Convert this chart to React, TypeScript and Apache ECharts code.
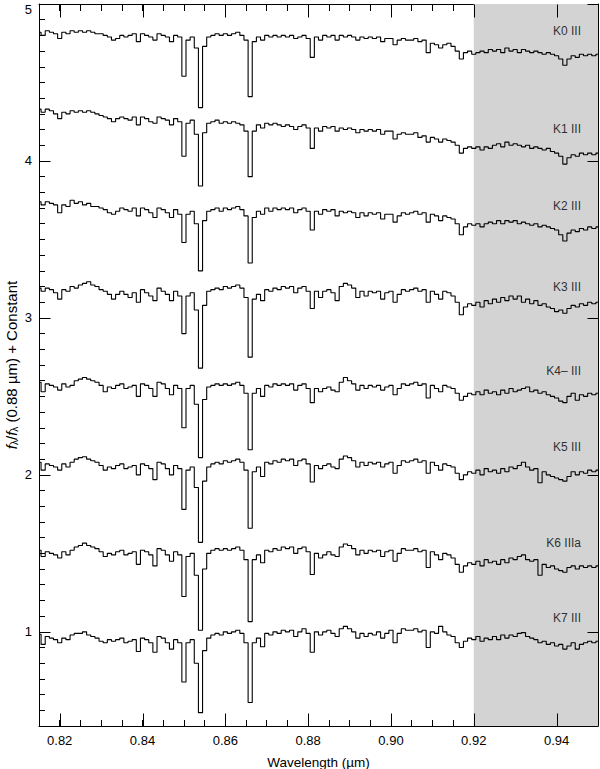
import React, { useEffect, useRef } from "react";
import * as echarts from "echarts";

// ---- axis ranges / ticks ----
const X_MIN = 0.815;
const X_MAX = 0.95;
const Y_MIN = 0.4;
const Y_MAX = 5;
const X_MAJOR = [0.82, 0.84, 0.86, 0.88, 0.9, 0.92, 0.94];
const Y_MAJOR = [1, 2, 3, 4, 5];
const SHADE_FROM = 0.92;
const SHADE_TO = 0.95;

// wavelength grid: 0.815 .. 0.950 µm, 0.001 µm sampling (136 samples)
const WL_START = 0.815;
const WL_STEP = 0.001;

// ---- spectra (f / f(0.88 µm) + constant) ----
const K0_III = [
  4.82, 4.8, 4.83, 4.82, 4.81, 4.78, 4.82, 4.81, 4.83, 4.82,
  4.83, 4.82, 4.83, 4.82, 4.81, 4.81, 4.8, 4.79, 4.77, 4.78,
  4.8, 4.79, 4.8, 4.81, 4.76, 4.81, 4.8, 4.79, 4.77, 4.81,
  4.8, 4.79, 4.76, 4.8, 4.79, 4.54, 4.77, 4.79, 4.72, 4.34,
  4.73, 4.79, 4.8, 4.81, 4.8, 4.81, 4.8, 4.81, 4.82, 4.8,
  4.77, 4.41, 4.76, 4.79, 4.77, 4.8, 4.79, 4.8, 4.79, 4.8,
  4.79, 4.8, 4.78, 4.79, 4.8, 4.78, 4.66, 4.79, 4.77, 4.8,
  4.79, 4.8, 4.77, 4.8, 4.79, 4.8, 4.79, 4.77, 4.79, 4.78,
  4.79, 4.78, 4.79, 4.76, 4.78, 4.78, 4.74, 4.77, 4.78, 4.77,
  4.77, 4.78, 4.76, 4.77, 4.69, 4.75, 4.74, 4.72, 4.74, 4.75,
  4.73, 4.7, 4.65, 4.69, 4.7, 4.68, 4.69, 4.7, 4.69, 4.71,
  4.7, 4.71, 4.69, 4.72, 4.7, 4.71, 4.69, 4.71, 4.7, 4.69,
  4.7, 4.69, 4.68, 4.69, 4.68, 4.67, 4.65, 4.61, 4.65, 4.67,
  4.66, 4.68, 4.67, 4.68, 4.67, 4.68,
];
const K1_III = [
  4.33, 4.31, 4.33, 4.32, 4.3, 4.27, 4.31, 4.3, 4.32, 4.31,
  4.32, 4.31, 4.32, 4.31, 4.3, 4.29, 4.28, 4.27, 4.25, 4.27,
  4.28, 4.27, 4.26, 4.28, 4.23, 4.28, 4.27, 4.25, 4.24, 4.28,
  4.27, 4.26, 4.23, 4.27, 4.25, 4.03, 4.24, 4.26, 4.17, 3.84,
  4.18, 4.24, 4.25, 4.26, 4.24, 4.25, 4.24, 4.25, 4.24, 4.23,
  4.19, 3.9, 4.19, 4.23, 4.21, 4.24, 4.23, 4.24, 4.23, 4.22,
  4.23, 4.22, 4.2, 4.22, 4.23, 4.21, 4.08, 4.21, 4.19, 4.22,
  4.21, 4.22, 4.19, 4.21, 4.2, 4.21, 4.2, 4.18, 4.2, 4.19,
  4.2, 4.19, 4.2, 4.17, 4.19, 4.19, 4.14, 4.17, 4.18, 4.17,
  4.17, 4.18, 4.15, 4.16, 4.12, 4.15, 4.14, 4.12, 4.14, 4.13,
  4.12, 4.1, 4.05, 4.08, 4.09, 4.08, 4.09, 4.07, 4.09, 4.08,
  4.1, 4.11, 4.09, 4.12, 4.1, 4.11, 4.1, 4.09, 4.1, 4.08,
  4.09, 4.08, 4.07, 4.08, 4.06, 4.05, 4.03, 3.98, 4.02, 4.04,
  4.03, 4.05, 4.04, 4.05, 4.04, 4.05,
];
const K2_III = [
  3.74, 3.72, 3.74, 3.73, 3.72, 3.67, 3.72, 3.71, 3.75, 3.73,
  3.74, 3.72, 3.73, 3.71, 3.71, 3.7, 3.69, 3.67, 3.66, 3.68,
  3.7, 3.69, 3.68, 3.7, 3.65, 3.7, 3.69, 3.67, 3.64, 3.7,
  3.69, 3.67, 3.64, 3.69, 3.66, 3.48, 3.66, 3.68, 3.6, 3.3,
  3.62, 3.68, 3.69, 3.7, 3.68, 3.7, 3.69, 3.7, 3.71, 3.69,
  3.65, 3.35, 3.64, 3.68, 3.66, 3.7, 3.68, 3.7, 3.69, 3.7,
  3.69, 3.7, 3.67, 3.69, 3.7, 3.68, 3.56, 3.68, 3.66, 3.69,
  3.68, 3.69, 3.65, 3.68, 3.67, 3.68, 3.67, 3.64, 3.67, 3.65,
  3.67, 3.66, 3.67, 3.63, 3.66, 3.66, 3.61, 3.65, 3.67, 3.66,
  3.67, 3.68, 3.66, 3.67, 3.61, 3.66, 3.65, 3.62, 3.65, 3.64,
  3.63, 3.6, 3.53, 3.58, 3.6, 3.59, 3.6, 3.58, 3.6, 3.61,
  3.6, 3.62, 3.6, 3.62, 3.61, 3.62, 3.6, 3.61, 3.6, 3.59,
  3.6, 3.58, 3.59, 3.58, 3.57, 3.56, 3.53, 3.49, 3.54, 3.56,
  3.55, 3.57, 3.56, 3.58, 3.57, 3.58,
];
const K3_III = [
  3.19, 3.17, 3.19, 3.18, 3.16, 3.12, 3.18, 3.17, 3.2, 3.19,
  3.21, 3.22, 3.23, 3.21, 3.2, 3.18, 3.17, 3.15, 3.12, 3.15,
  3.17, 3.15, 3.13, 3.16, 3.1, 3.18, 3.16, 3.14, 3.11, 3.19,
  3.17, 3.15, 3.11, 3.17, 3.14, 2.9, 3.14, 3.16, 3.05, 2.68,
  3.08, 3.17, 3.18, 3.19, 3.18, 3.2, 3.19, 3.2, 3.21, 3.19,
  3.13, 2.75, 3.12, 3.15, 3.11, 3.18, 3.17, 3.19, 3.18, 3.2,
  3.19, 3.2, 3.16, 3.19, 3.2, 3.17, 3.06, 3.17, 3.13, 3.17,
  3.18, 3.16, 3.11, 3.2, 3.22, 3.21, 3.19, 3.13, 3.17, 3.14,
  3.17, 3.16, 3.17, 3.12, 3.16, 3.17, 3.1, 3.15, 3.18, 3.17,
  3.18, 3.19, 3.17, 3.18, 3.1, 3.17, 3.15, 3.12, 3.17, 3.16,
  3.14, 3.1, 3.02, 3.07, 3.09, 3.08, 3.1, 3.07, 3.11, 3.09,
  3.12, 3.1, 3.13, 3.11, 3.14, 3.12, 3.14, 3.1, 3.12, 3.09,
  3.11, 3.08, 3.09, 3.07, 3.06, 3.04, 3.05, 3.03, 3.06, 3.08,
  3.07, 3.09, 3.08, 3.1, 3.09, 3.1,
];
const K4_III = [
  2.59, 2.53, 2.58, 2.57, 2.56, 2.54, 2.58, 2.56, 2.57, 2.6,
  2.61, 2.62, 2.61, 2.6, 2.59, 2.57, 2.53, 2.56, 2.55, 2.57,
  2.58, 2.55, 2.56, 2.57, 2.5, 2.58, 2.57, 2.55, 2.5, 2.59,
  2.58, 2.55, 2.51, 2.57, 2.55, 2.3, 2.55, 2.57, 2.45, 2.11,
  2.48, 2.56, 2.57, 2.58, 2.57, 2.58, 2.57, 2.58, 2.59, 2.57,
  2.52, 2.16, 2.52, 2.55, 2.5, 2.57, 2.56, 2.58, 2.57, 2.58,
  2.57, 2.58, 2.54, 2.57, 2.58, 2.55, 2.46, 2.55, 2.53, 2.55,
  2.56, 2.54, 2.53, 2.59, 2.62, 2.6, 2.58, 2.54, 2.57, 2.55,
  2.57, 2.56, 2.57, 2.54, 2.56, 2.57, 2.51, 2.55, 2.58, 2.57,
  2.58, 2.59, 2.57, 2.58, 2.49, 2.57, 2.55, 2.53, 2.57, 2.56,
  2.55, 2.52, 2.475, 2.5, 2.52, 2.51, 2.53, 2.51, 2.54, 2.52,
  2.53, 2.51, 2.54, 2.52, 2.55, 2.53, 2.54, 2.55, 2.56, 2.53,
  2.54, 2.52, 2.53, 2.51, 2.5, 2.49, 2.47, 2.46, 2.5, 2.52,
  2.475, 2.51, 2.5, 2.52, 2.51, 2.52,
];
const K5_III = [
  2.08, 2.03, 2.07, 2.06, 2.05, 2.03, 2.07, 2.05, 2.08, 2.1,
  2.11, 2.115, 2.1, 2.09, 2.08, 2.06, 2.03, 2.05, 2.04, 2.06,
  2.07, 2.04, 2.05, 2.06, 2.0, 2.07, 2.06, 2.04, 1.97, 2.08,
  2.07, 2.04, 2.0, 2.06, 2.04, 1.78, 2.03, 2.05, 1.92, 1.57,
  1.96, 2.05, 2.07, 2.08, 2.07, 2.09, 2.08, 2.09, 2.1, 2.08,
  2.03, 1.66, 2.02, 2.05, 1.99, 2.08, 2.07, 2.09, 2.08, 2.1,
  2.09, 2.1, 2.06, 2.09, 2.1, 2.07, 1.955, 2.06, 2.04, 2.06,
  2.07, 2.05, 2.04, 2.1, 2.12, 2.11, 2.09, 2.05, 2.08, 2.06,
  2.08, 2.07, 2.08, 2.05, 2.07, 2.08, 2.01, 2.06, 2.09, 2.08,
  2.09, 2.1, 2.08, 2.09, 2.01, 2.08, 2.06, 2.03, 2.07, 2.06,
  2.05, 2.01, 1.97, 2.0, 2.02, 2.01, 2.03, 2.0, 2.04, 2.02,
  2.03, 2.01, 2.04, 2.02, 2.05, 2.04, 2.06, 2.08, 2.05, 2.03,
  2.04, 1.95, 2.02, 2.0, 1.99, 1.98, 1.97, 1.96, 1.99, 2.02,
  2.0, 2.02, 2.01, 2.03, 2.02, 2.03,
];
const K6_IIIa = [
  1.52, 1.48, 1.51, 1.5, 1.49, 1.47, 1.51, 1.49, 1.52, 1.54,
  1.55, 1.565, 1.55, 1.54, 1.53, 1.51, 1.48, 1.5, 1.49, 1.51,
  1.52, 1.49, 1.5, 1.51, 1.43, 1.52, 1.51, 1.49, 1.42, 1.53,
  1.52, 1.49, 1.45, 1.51, 1.49, 1.225, 1.48, 1.5, 1.36, 1.01,
  1.4, 1.5, 1.52, 1.53, 1.52, 1.53, 1.52, 1.53, 1.54, 1.52,
  1.46, 1.065, 1.46, 1.49, 1.44, 1.52, 1.51, 1.53, 1.52, 1.54,
  1.53, 1.54, 1.5, 1.53, 1.54, 1.51, 1.365, 1.5, 1.47, 1.49,
  1.51, 1.49, 1.48, 1.54, 1.56, 1.55, 1.53, 1.49, 1.52, 1.5,
  1.52, 1.51, 1.52, 1.48, 1.51, 1.52, 1.45, 1.5, 1.53, 1.52,
  1.52, 1.53, 1.51, 1.52, 1.41, 1.51, 1.49, 1.46, 1.5, 1.49,
  1.47, 1.43, 1.38, 1.42, 1.44, 1.43, 1.45, 1.42, 1.46, 1.44,
  1.45, 1.43, 1.46, 1.44, 1.47, 1.46, 1.48, 1.49, 1.46, 1.45,
  1.46, 1.36, 1.43, 1.41, 1.42, 1.4, 1.39, 1.38, 1.41, 1.42,
  1.4, 1.42, 1.41, 1.42, 1.41, 1.42,
];
const K7_III = [
  0.985, 0.92, 0.97, 0.96, 0.95, 0.93, 0.96, 0.95, 0.98, 0.99,
  0.99, 1.0, 0.98, 0.97, 0.96, 0.94, 0.93, 0.95, 0.94, 0.95,
  0.96, 0.93, 0.94, 0.95, 0.875, 0.96, 0.95, 0.93, 0.87, 0.97,
  0.96, 0.93, 0.89, 0.95, 0.93, 0.68, 0.93, 0.95, 0.8, 0.485,
  0.88, 0.96, 0.98, 0.99, 0.98, 1.0, 0.99, 1.0, 1.01, 0.99,
  0.93, 0.55, 0.93, 0.96, 0.905, 0.99, 0.98, 1.0, 0.99, 1.01,
  1.0, 1.01, 0.97, 1.0, 1.02, 0.99, 0.87, 1.0, 0.98, 1.0,
  1.01, 0.99, 0.97, 1.02, 1.035, 1.02, 1.0, 0.96, 0.99, 0.97,
  0.99, 0.98, 1.0, 0.96, 0.99, 1.01, 0.93, 0.99, 1.02, 1.01,
  1.01, 1.02, 1.0, 1.01, 0.9, 1.0, 0.99, 1.035, 1.0, 0.98,
  0.97, 0.93, 0.9, 0.94, 0.96, 0.95, 0.97, 0.94, 0.96, 0.95,
  0.97, 0.95, 0.98, 0.96, 0.98, 0.97, 0.99, 0.995, 0.97, 0.96,
  0.95, 0.93, 0.94, 0.92, 0.93, 0.91, 0.92, 0.89, 0.91, 0.93,
  0.89, 0.92, 0.93, 0.94, 0.93, 0.94,
];

const SPECTRA = [K0_III, K1_III, K2_III, K3_III, K4_III, K5_III, K6_IIIa, K7_III];
const STAR_NAMES = ["K0 III", "K1 III", "K2 III", "K3 III", "K4\u2013 III", "K5 III", "K6 IIIa", "K7 III"];
const LABEL_X = 0.9459;
const LABEL_Y = [4.828, 4.205, 3.716, 3.195, 2.66, 2.18, 1.567, 1.09];

const Y_TITLE = "{it|f}{sub|\u03bb}{n|/}{it|f}{sub|\u03bb}{n| (0.88 \u00b5m) + Constant}";
const X_TITLE = "Wavelength (\u00b5m)";

const FONT = "'Liberation Sans', Arial, Helvetica, sans-serif";

export default function App() {
  const ref = useRef<HTMLDivElement>(null);

  useEffect(() => {
    if (!ref.current) return;
    const chart = echarts.init(ref.current, undefined, { renderer: "svg" });

    const lineSeries = SPECTRA.map((flux, k) => ({
      type: "line",
      name: STAR_NAMES[k],
      step: "middle",
      showSymbol: false,
      symbol: "none",
      silent: true,
      z: 3,
      lineStyle: { color: "#000", width: 1.1 },
      data: flux.map((y, i) => [+(WL_START + i * WL_STEP).toFixed(4), y]),
    }));

    // major ticks (drawn through the axes' scales)
    const majorTicks: number[][] = [];
    X_MAJOR.forEach((v) => {
      majorTicks.push([v, Y_MIN, 0]);
      majorTicks.push([v, Y_MAX, 1]);
    });
    Y_MAJOR.forEach((v) => {
      majorTicks.push([X_MIN, v, 2]);
      majorTicks.push([X_MAX, v, 3]);
    });

    const xLabelFmt = (v: number) => {
      const r = Math.round(v * 1000);
      return r % 20 === 0 ? (r / 1000).toFixed(2) : "";
    };
    const yLabelFmt = (v: number) => {
      if (Math.abs(v - Math.round(v)) > 1e-6) return "";
      const n = Math.round(v);
      return n === Y_MAX ? "{top|" + n + "}" : String(n);
    };

    const axisLine = { show: true, lineStyle: { color: "#000", width: 1 } };

    chart.setOption({
      animation: false,
      grid: { left: 39, right: 2, top: 4, bottom: 43, containLabel: false, outerBoundsMode: "none" },
      graphic: [
        {
          type: "text",
          x: 11,
          y: 365,
          rotation: Math.PI / 2,
          silent: true,
          style: {
            text: Y_TITLE,
            align: "center",
            verticalAlign: "middle",
            fill: "#000",
            fontSize: 15,
            fontFamily: FONT,
            rich: {
              it: { fontStyle: "italic", fontSize: 15, fontFamily: FONT, fill: "#000", lineHeight: 16 },
              n: { fontSize: 15, fontFamily: FONT, fill: "#000", lineHeight: 16 },
              sub: { fontSize: 10, fontFamily: FONT, fill: "#000", lineHeight: 10, verticalAlign: "bottom" },
            },
          },
        },
      ],
      xAxis: [
        {
          type: "value",
          position: "bottom",
          min: X_MIN,
          max: X_MAX,
          interval: 0.005,
          axisLine,
          axisTick: { show: true, inside: true, length: 6, lineStyle: { color: "#000" } },
          axisLabel: { formatter: xLabelFmt, color: "#000", fontSize: 13, fontFamily: FONT, margin: 8 },
          splitLine: { show: false },
          name: X_TITLE,
          nameLocation: "middle",
          nameGap: 29,
          nameTextStyle: { color: "#000", fontSize: 13.5, fontFamily: FONT },
        },
        {
          type: "value",
          position: "top",
          min: X_MIN,
          max: X_MAX,
          interval: 0.005,
          axisLine,
          axisTick: { show: true, inside: true, length: 7, lineStyle: { color: "#000" } },
          axisLabel: { show: false },
          splitLine: { show: false },
        },
      ],
      yAxis: [
        {
          type: "value",
          position: "left",
          min: Y_MIN,
          max: Y_MAX,
          interval: 0.1,
          axisLine,
          axisTick: { show: true, inside: true, length: 6, lineStyle: { color: "#000" } },
          axisLabel: {
            formatter: yLabelFmt,
            color: "#000",
            fontSize: 13,
            fontFamily: FONT,
            margin: 7,
            rich: {
              top: { fontSize: 13, fontFamily: FONT, color: "#000", padding: [11, 0, 0, 0] },
            },
          },
          splitLine: { show: false },
        },
        {
          type: "value",
          position: "right",
          min: Y_MIN,
          max: Y_MAX,
          interval: 0.1,
          axisLine,
          axisTick: { show: true, inside: true, length: 5, lineStyle: { color: "#000" } },
          axisLabel: { show: false },
          splitLine: { show: false },
        },
      ],
      series: [
        {
          type: "line",
          data: [],
          silent: true,
          z: 1,
          markArea: {
            silent: true,
            itemStyle: { color: "#d3d3d3", opacity: 1 },
            data: [[{ xAxis: SHADE_FROM, yAxis: Y_MIN }, { xAxis: SHADE_TO, yAxis: Y_MAX }]],
          },
        },
        ...lineSeries,
        {
          type: "custom",
          silent: true,
          z: 5,
          clip: false,
          data: majorTicks,
          renderItem: (_params: any, api: any) => {
            const kind = api.value(2);
            const p = api.coord([api.value(0), api.value(1)]);
            const x = Math.round(p[0]) + 0.5;
            const y = Math.round(p[1]) + 0.5;
            let shape;
            if (kind === 0) shape = { x1: x, y1: y, x2: x, y2: y - 13 };
            else if (kind === 1) shape = { x1: x, y1: y, x2: x, y2: y + 13 };
            else if (kind === 2) shape = { x1: x, y1: y, x2: x + 11, y2: y };
            else shape = { x1: x, y1: y, x2: x - 11, y2: y };
            return { type: "line", shape, style: { stroke: "#000", lineWidth: 1 } };
          },
        },
        {
          type: "scatter",
          silent: true,
          z: 6,
          symbolSize: 0,
          data: STAR_NAMES.map((n, k) => ({ value: [LABEL_X, LABEL_Y[k]], name: n })),
          label: {
            show: true,
            position: "inside",
            align: "right",
            verticalAlign: "middle",
            formatter: (p: any) => p.name,
            color: "#000",
            fontSize: 12,
            fontFamily: FONT,
          },
        },
      ],
    });

    return () => chart.dispose();
  }, []);

  return (
    <div
      ref={ref}
      style={{ position: "fixed", left: 0, top: 0, width: 600, height: 769, background: "#fff" }}
    />
  );
}
